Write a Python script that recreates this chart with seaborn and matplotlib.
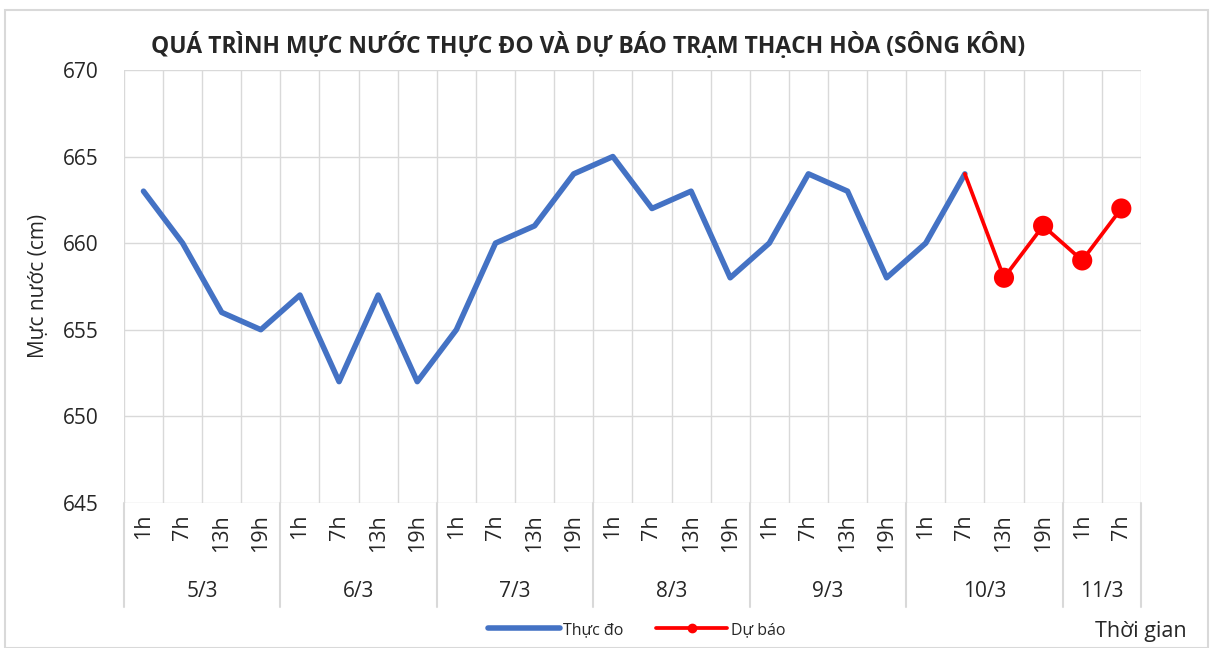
import matplotlib
matplotlib.use('Agg')
import matplotlib.pyplot as plt
import matplotlib.transforms as mtransforms
from matplotlib.lines import Line2D
import seaborn as sns
import numpy as np
import pandas as pd

# Dữ liệu mực nước trạm Thạch Hòa
ngay = ['5/3', '6/3', '7/3', '8/3', '9/3', '10/3', '11/3']
gio_moi_ngay = [['1h', '7h', '13h', '19h']] * 6 + [['1h', '7h']]
nhan_gio = [g for nhom in gio_moi_ngay for g in nhom]

thuc_do = [663, 660, 656, 655, 657, 652, 657, 652, 655, 660, 661, 664,
           665, 662, 663, 658, 660, 664, 663, 658, 660, 664]
du_bao = [664, 658, 661, 659, 662]
du_bao_start = len(thuc_do) - 1

df_td = pd.DataFrame({'x': np.arange(len(thuc_do)), 'y': thuc_do})
df_db = pd.DataFrame({'x': np.arange(du_bao_start, du_bao_start + len(du_bao)), 'y': du_bao})

sns.set_style('white')
plt.rcParams['font.family'] = ['Open Sans', 'DejaVu Sans']

fig = plt.figure(figsize=(12.15, 6.48), dpi=100)
ax = fig.add_axes([0.102, 0.224, 0.837, 0.668])

n = len(nhan_gio)
# lưới
for b in np.arange(-0.5, n, 1):
    ax.axvline(b, color='#d9d9d9', lw=1, zorder=0)
for v in range(645, 671, 5):
    ax.axhline(v, color='#d9d9d9', lw=1, zorder=0)

sns.lineplot(data=df_td, x='x', y='y', ax=ax, color='#4472C4', lw=4, zorder=3)
sns.lineplot(data=df_db, x='x', y='y', ax=ax, color='#FF0000', lw=2.7, zorder=4)
sns.scatterplot(data=df_db.iloc[1:], x='x', y='y', ax=ax, color='#FF0000', s=210,
                edgecolor='none', zorder=5, legend=False)

ax.set_xlim(-0.5, n - 0.5)
ax.set_ylim(645, 670)
ax.set_yticks(range(645, 671, 5))
ax.tick_params(axis='y', labelsize=15, length=0, pad=18)
ax.set_xticks(range(n))
ax.set_xticklabels(nhan_gio, rotation=90, fontsize=15.5)
ax.tick_params(axis='x', length=0, pad=8)
ax.set_xlabel('')
ax.set_ylabel('Mực nước (cm)', fontsize=15, labelpad=10)
for s in ax.spines.values():
    s.set_visible(False)

# nhãn ngày và vạch ngăn
trans = mtransforms.blended_transform_factory(ax.transData, ax.transAxes)
pos = -0.5
ax.plot([pos, pos], [0, -0.24], transform=trans, color='#d9d9d9', lw=1.5, clip_on=False)
for d, nhom in zip(ngay, gio_moi_ngay):
    end = pos + len(nhom)
    ax.text((pos + end) / 2, -0.205, d, transform=trans, ha='center', va='center', fontsize=15)
    ax.plot([end, end], [0, -0.24], transform=trans, color='#d9d9d9', lw=1.5, clip_on=False)
    pos = end

fig.text(0.484, 0.93, 'QUÁ TRÌNH MỰC NƯỚC THỰC ĐO VÀ DỰ BÁO TRẠM THẠCH HÒA (SÔNG KÔN)',
         ha='center', va='center', fontsize=16.5, fontweight='bold')
fig.text(0.939, 0.025, 'Thời gian', ha='center', va='center', fontsize=15.5)

h = [Line2D([], [], color='#4472C4', lw=4),
     Line2D([], [], color='#FF0000', lw=2.7, marker='o', markersize=6)]
ax.legend(h, ['Thực đo', 'Dự báo'], loc='center', bbox_to_anchor=(0.524, 0.028),
          bbox_transform=fig.transFigure, ncol=2, frameon=False, fontsize=11.5,
          handlelength=4.5, handletextpad=0.2, columnspacing=2)

# khung ngoài
fig.patches.append(plt.Rectangle((0.004, 0.0), 0.99, 0.985, transform=fig.transFigure,
                                 fill=False, edgecolor='#d9d9d9', lw=1.5))

fig.savefig('out.png', dpi=100)
